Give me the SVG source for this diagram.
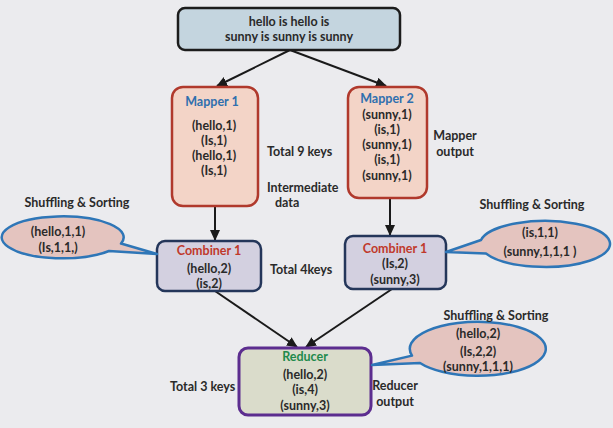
<svg xmlns="http://www.w3.org/2000/svg" width="613" height="428" viewBox="0 0 613 428">
<style>
text{font-family:Lato,"Liberation Sans",sans-serif;font-size:12.5px;font-weight:bold;fill:#2a2a2a;text-anchor:middle}
.l{text-anchor:start}
.box{stroke-width:2.5}
.top{fill:#c4d5df;stroke:#1c1c1c}
.map{fill:#f3d4c7;stroke:#b0392c}
.comb{fill:#d3d0e0;stroke:#24365a}
.red{fill:#dadccb;stroke:#5c2d8f;stroke-width:3}
.bub{fill:#e4c4bf;stroke:#2e76b7;stroke-width:2.5;stroke-linejoin:round}
.mt{fill:#2f6fae}
.ct{fill:#c0392b}
.rt{fill:#1f8a4c}
.edge{stroke:#1a1a1a;stroke-width:2;fill:none;marker-end:url(#ah)}
</style>
<defs>
<marker id="ah" markerUnits="userSpaceOnUse" markerWidth="12" markerHeight="10" refX="10" refY="5" orient="auto">
<path d="M0,0 L11,5 L0,10 Z" fill="#1a1a1a"/>
</marker>
</defs>
<rect width="613" height="428" fill="#ebebee"/>
<g id="connectors">
<path class="edge" d="M290 50 L217 86"/>
<path class="edge" d="M290 50 L386 86"/>
<path class="edge" d="M215 206 L215 240"/>
<path class="edge" d="M390 198 L390 235"/>
<path class="edge" d="M215 291 L297 347"/>
<path class="edge" d="M392 289 L306 347"/>
</g>
<g id="input">
<rect class="box top" x="178" y="8" width="222" height="42" rx="7"/>
<text x="289" y="26">hello is hello is</text>
<text x="289" y="41">sunny is sunny is sunny</text>
</g>
<g id="mapper1">
<rect class="box map" x="172" y="87" width="86" height="119" rx="11"/>
<text class="mt" x="212" y="106">Mapper 1</text>
<text x="214" y="130">(hello,1)</text>
<text x="214" y="145">(Is,1)</text>
<text x="214" y="160">(hello,1)</text>
<text x="214" y="175">(Is,1)</text>
</g>
<g id="mapper2">
<rect class="box map" x="348" y="87" width="79" height="111" rx="11"/>
<text class="mt" x="387" y="103">Mapper 2</text>
<text x="387" y="119">(sunny,1)</text>
<text x="387" y="134">(is,1)</text>
<text x="387" y="149">(sunny,1)</text>
<text x="387" y="164">(is,1)</text>
<text x="387" y="180">(sunny,1)</text>
</g>
<g id="combiner1">
<rect class="box comb" x="157" y="241" width="104" height="50" rx="8"/>
<text class="ct" x="209" y="255">Combiner 1</text>
<text x="209" y="273">(hello,2)</text>
<text x="209" y="288">(is,2)</text>
</g>
<g id="combiner2">
<rect class="box comb" x="345" y="236" width="101" height="53" rx="8"/>
<text class="ct" x="395" y="253">Combiner 1</text>
<text x="395" y="268">(Is,2)</text>
<text x="395" y="284">(sunny,3)</text>
</g>
<g id="reducer">
<rect class="box red" x="239" y="348" width="132" height="67" rx="9"/>
<text class="rt" x="305" y="361">Reducer</text>
<text x="305" y="379">(hello,2)</text>
<text x="305" y="394">(is,4)</text>
<text x="305" y="410">(sunny,3)</text>
</g>
<g id="bubble-left">
<path class="bub" d="M121 243.5 A61 21 0 1 0 109 251 L157 254 Z"/>
<text x="58" y="236">(hello,1,1)</text>
<text x="58" y="252">(Is,1,1,)</text>
</g>
<g id="bubble-right">
<path class="bub" d="M481 240 A65 23 0 1 1 486 253.6 L446 252 Z"/>
<text x="540" y="237">(is,1,1)</text>
<text x="540" y="256">(sunny,1,1,1 )</text>
</g>
<g id="bubble-bottom">
<path class="bub" d="M412 355.6 A68 27 0 1 1 420 363 L372 365 Z"/>
<text x="478" y="338">(hello,2)</text>
<text x="478" y="356">(Is,2,2)</text>
<text x="478" y="371">(sunny,1,1,1)</text>
</g>
<g id="labels">
<text x="77" y="207">Shuffling &amp; Sorting</text>
<text x="532" y="209">Shuffling &amp; Sorting</text>
<text x="496" y="320">Shuffling &amp; Sorting</text>
<text class="l" x="267" y="156">Total 9 keys</text>
<text class="l" x="267" y="192">Intermediate</text>
<text class="l" x="275" y="207">data</text>
<text x="455" y="140">Mapper</text>
<text x="455" y="156">output</text>
<text class="l" x="270" y="274">Total 4keys</text>
<text class="l" x="170" y="391">Total 3 keys</text>
<text x="395" y="390">Reducer</text>
<text x="395" y="406">output</text>
</g>
</svg>
